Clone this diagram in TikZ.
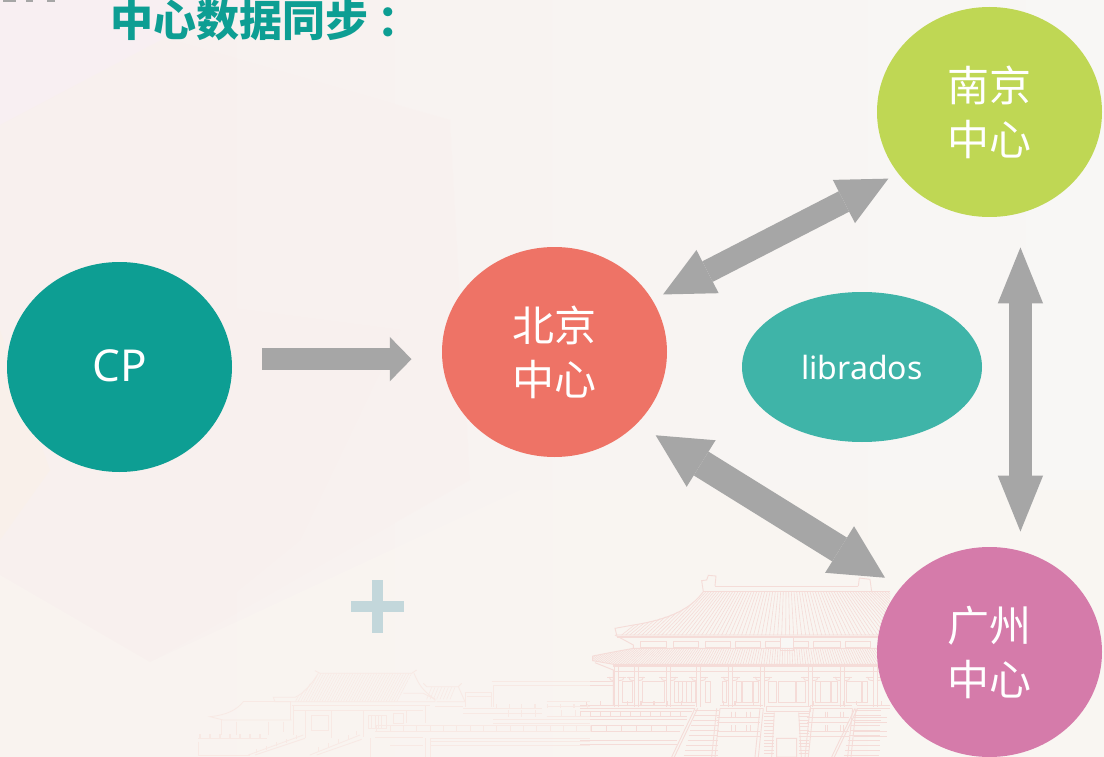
\documentclass[tikz,border=0pt]{standalone}
\usepackage{fontspec}
\setmainfont{Noto Sans}
\newfontfamily\cjk{Noto Sans CJK SC}
\usetikzlibrary{shapes.geometric,arrows.meta}
\definecolor{paper}{HTML}{F8F7F5}
\definecolor{washrose}{HTML}{F8F0EE}
\definecolor{washpink}{HTML}{F8EFF3}
\definecolor{washpeach}{HTML}{FAF0E8}
\definecolor{washcream}{HTML}{FAF6F1}
\definecolor{flowgrey}{HTML}{A6A6A6}
\definecolor{tealdark}{HTML}{0D9E93}
\definecolor{tealsoft}{HTML}{3FB4A8}
\definecolor{coral}{HTML}{EE7366}
\definecolor{lime}{HTML}{BFD754}
\definecolor{orchid}{HTML}{D57BAA}
\definecolor{plusblue}{HTML}{C3D7DB}
\definecolor{hallline}{HTML}{F5DCD8}
\definecolor{gateline}{HTML}{F8E9E4}
\tikzset{
  center/.style={ellipse,inner sep=0pt,minimum width=225pt,minimum height=210pt,
    text=white,align=center,font=\cjk\fontsize{42}{54}\selectfont},
  flow/.style={draw=flowgrey,line width=#1},
  tipsmall/.style={-{Triangle[length=21.7pt,width=44.4pt,line width=0pt]}},
  tipwide/.style={{Triangle[length=50pt,width=48.6pt,line width=0pt]}-{Triangle[length=50pt,width=48.6pt,line width=0pt]}},
  tiplarge/.style={{Triangle[length=53.5pt,width=54.8pt,line width=0pt]}-{Triangle[length=53.5pt,width=54.8pt,line width=0pt]}},
  tiptall/.style={{Triangle[length=56pt,width=45.4pt,line width=0pt]}-{Triangle[length=56pt,width=45.4pt,line width=0pt]}},
  hall/.style={draw=hallline,line width=.9pt},
  gate/.style={draw=gateline,line width=.8pt},
}
\begin{document}
\begin{tikzpicture}[x=1pt,y=-1pt]
\clip (0,0) rectangle (1104,757);

% paper with its soft geometric wash
\shade[left color=washrose,middle color=paper,right color=paper] (0,0) rectangle (1104,757);
\fill[washpink,opacity=.8] (0,0) -- (260,0) -- (165,38) -- (0,125) -- cycle;
\fill[washrose,opacity=.45] (0,125) -- (165,38) -- (450,120) -- (470,480) -- (150,662) -- (0,575) -- cycle;
\fill[washrose,opacity=.35] (0,250) -- (170,300) -- (400,330) -- (300,540) -- (150,662) -- (0,575) -- cycle;
\fill[washpeach,opacity=.6] (0,330) -- (50,470) -- (0,540) -- cycle;
\fill[washcream,opacity=.5] (0,575) -- (150,662) -- (520,490) -- (1104,490) -- (1104,757) -- (0,757) -- cycle;

% hall on the terrace, laid out in a third of a point
\begin{scope}[shift={(580,570)},x=.33333pt,y=-.33333pt]
  % upper roof
  \begin{scope}
    \clip (370,65) .. controls (330,120) and (260,150) .. (105,175) -- (110,195) -- (930,195) -- (930,65) -- cycle;
    \foreach \t in {-330,-322,...,330}
      \draw[hall,line width=.6pt] (620+\t,65) -- (620+1.5*\t,195);
  \end{scope}
  \draw[hall] (370,65) .. controls (330,120) and (260,150) .. (160,165) -- (105,175) -- (110,195) -- (930,195);
  \draw[hall] (370,65) -- (930,65);
  \draw[hall] (405,48) -- (835,48);
  \draw[hall] (405,48) -- (408,18) -- (385,16) -- (380,30) -- (365,32) -- (370,65);
  \draw[hall] (835,48) -- (838,24) -- (870,28) -- (875,65);
  \draw[hall,line width=1.4pt] (110,201) -- (930,201);
  \draw[hall] (105,195) -- (160,225) -- (160,235);
  % frieze between the roofs
  \foreach \a/\b in {180/260,280/355,375/450,465/540,555/600,640/685,700/780,795/870}
    \draw[hall] (\a,215) rectangle (\b,232);
  \draw[hall,fill=paper] (601,201) rectangle (640,241);
  % lower roof
  \begin{scope}
    \clip (38,258) -- (105,245) -- (160,235) -- (930,235) -- (930,283) -- (100,283) -- (38,272) -- cycle;
    \foreach \t in {-600,-593,...,340}
      \draw[hall,line width=.6pt] (620+\t,235) -- (620+1.12*\t,283);
  \end{scope}
  \draw[hall] (38,258) -- (105,245) -- (160,235) -- (930,235);
  \draw[hall] (38,258) -- (38,272) -- (100,283) -- (930,283);
  \draw[hall,line width=1.6pt] (100,288) -- (930,288);
  \draw[hall] (45,278) -- (100,300) -- (100,405);
  % long wall running off to the left
  \draw[hall] (0,335) -- (100,335) (0,345) -- (100,345);
  % columns and their brackets
  \foreach \c in {110,168,265,356,452,548,692,788,885} {
    \draw[hall] (\c-6,290) -- (\c-6,412) (\c+6,290) -- (\c+6,412);
    \draw[hall] (\c-28,321) -- (\c-6,321) (\c+6,321) -- (\c+28,321);
    \draw[hall] (\c-22,321) .. controls (\c-20,330) .. (\c-6,332) (\c+22,321) .. controls (\c+20,330) .. (\c+6,332);
  }
  \draw[hall] (100,305) -- (930,305);
  % doors and windows
  \foreach \a/\b in {128/158,188/252,283/347,376/392,428/440,470/485,487/518,520/535,565/590,595/645,650/676,705/720,722/752,754/772,800/845,848/862}
    \draw[hall] (\a,335) rectangle (\b,398);
  \foreach \x in {295,308,320,333}
    \draw[hall] (\x,335) -- (\x,398);
  % terrace to the left of the stairs
  \foreach \y/\a/\b in {405/0/345,414/0/345,425/0/335,440/0/322,447/0/320,467/0/312,485/0/300,510/0/292,522/0/290}
    \draw[hall] (\a,\y) -- (\b,\y);
  \foreach \x in {0,30,...,300}
    \draw[hall] (\x,425) -- (\x,440);
  \foreach \x in {35,80,125,170,215,260}
    \draw[hall] (\x,465) -- (\x,485);
  \foreach \x in {20,62,104,143,183,222,262,305}
    \draw[hall,line width=1.6pt] (\x,394) -- (\x,405);
  % terrace blocks to the right
  \foreach \a/\b in {420/548,690/815,830/930} {
    \draw[hall] (\a,405) -- (\b,405) (\a,415) -- (\b,415);
    \foreach \y in {441,458,485,500}
      \draw[hall] (\a-8,\y) -- (\b-8,\y);
  }
  \foreach \x in {465,510,735,780,453,500,742,790} 
    \draw[hall] (\x,425) -- (\x,441) (\x,465) -- (\x,485);
  \foreach \x in {430,465,520,700,790,830,905}
    \draw[hall,line width=1.6pt] (\x,394) -- (\x,405);
  % flights of steps
  \foreach \a/\b in {345/420,825/905} {
    \foreach \y in {420,435,...,555} {
      \draw[hall,line width=.7pt] (\a-\y*.25+105,\y) -- (\b-\y*.03+10,\y);
    }
    \draw[hall] (\a,415) -- (\a-70,561) (\a+8,415) -- (\a-62,561);
  }
  \foreach \x in {420,410,540,550,690,700,818,828}
    \draw[hall] (\x,415) -- (\x-15,561);
  \foreach \y in {430,440,...,555}
    \draw[hall,line width=.7pt] (553,\y) -- (583,\y) (656,\y) -- (688,\y);
  \draw[hall] (583,428) -- (575,561) (656,428) -- (664,561) (590,505) rectangle (650,561);
  \draw[hall] (560,408) rectangle (690,425);
\end{scope}

% low gate halls further back, fainter
\begin{scope}[shift={(190,660)},x=.33333pt,y=-.33333pt]
  \begin{scope}
    \clip (390,40) -- (665,40) -- (625,125) -- (310,125) -- cycle;
    \foreach \x in {300,308,...,680}
      \draw[gate,line width=.5pt] (\x+45,40) -- (\x,125);
  \end{scope}
  \draw[gate] (390,40) -- (665,40) (375,32) -- (390,40) (665,40) -- (680,30);
  \draw[gate] (385,40) .. controls (360,80) and (340,100) .. (315,112) -- (250,112) -- (255,125) -- (735,125);
  \draw[gate] (672,40) .. controls (685,70) and (695,90) .. (735,118) -- (735,125);
  \draw[gate] (640,100) -- (700,100) -- (735,118);
  % side hall
  \draw[gate] (160,125) .. controls (140,150) and (110,165) .. (60,170) -- (100,180) -- (305,180);
  \draw[gate] (160,125) -- (300,125) -- (300,180);
  \draw[gate] (95,180) -- (95,225) (140,185) -- (140,225) (235,185) -- (235,225) (280,185) -- (280,215);
  % gate body
  \draw[gate] (305,135) -- (720,135) (310,150) -- (700,150);
  \draw[gate] (310,135) -- (310,225) (345,150) -- (345,235) (425,150) -- (425,235) (520,150) -- (520,230);
  \draw[gate] (365,165) rectangle (415,210);
  \draw[gate] (535,165) rectangle (590,205);
  \foreach \x in {545,555,565,575} \draw[gate] (\x,165) -- (\x,205);
  \draw[gate] (610,160) rectangle (640,190) (650,150) -- (650,190) (705,135) -- (705,190);
  % small pavilion
  \draw[gate] (710,80) -- (805,80) -- (825,125) -- (740,125);
  \foreach \x in {715,725,...,785} \draw[gate,line width=.5pt] (\x+10,82) -- (\x-5,118);
  \draw[gate] (700,70) -- (710,80) (805,80) -- (815,70);
  \draw[gate] (825,98) -- (905,98) -- (905,140) (830,110) -- (905,110) (825,98) -- (825,140);
  % long back wall
  \draw[gate] (905,65) -- (1200,65) (910,75) -- (1200,75) (910,75) -- (910,140);
  \foreach \a/\b/\y in {735/820/140,820/1055/145,820/1055/160,910/1200/178,910/1200/190,555/1200/195,555/1200/215,555/700/232,1070/1200/125,1070/1200/140,1070/1200/170,720/1200/235,720/1200/245,720/1200/255,600/700/255}
    \draw[gate] (\a,\y) -- (\b,\y);
  \foreach \x in {920,958,995,1035,1072,1112,1152,1192}
    \draw[gate,line width=1.4pt] (\x,133) -- (\x,145);
  \foreach \x in {955,995,1035,1115,1155}
    \draw[gate] (\x,150) -- (\x,170);
  \foreach \x in {560,600,...,1200}
    \draw[gate] (\x,195) -- (\x,215);
  \draw[gate] (705,235) -- (705,291) (722,235) -- (722,291) (540,235) -- (540,291);
  % front wall and ramps
  \draw[gate] (25,235) -- (230,235) (25,245) -- (25,285) -- (180,285);
  \foreach \x in {30,60,...,210}
    \draw[gate,line width=1.4pt] (\x,222) -- (\x,235);
  \draw[gate] (175,285) -- (340,225) (195,285) -- (345,235);
  \draw[gate] (360,285) -- (510,225) (380,285) -- (515,238);
  \foreach \x in {200,230,260,290,320}
    \draw[gate] (\x,\x*-.36+352) -- (\x,\x*-.36+340);
  \foreach \x in {385,415,445,475,500}
    \draw[gate] (\x,\x*-.4+426) -- (\x,\x*-.4+414);
\end{scope}

% plus sign
\fill[plusblue] (372,580) rectangle (383,633);
\fill[plusblue] (351,601) rectangle (404,612);

% clipped remains of a heading along the top edge
\fill[gray!70] (3,0) rectangle (16,1.6);
\fill[gray!70] (26,0) rectangle (33,1.8);
\fill[gray!70] (47,0) rectangle (55,1.8);

\node[anchor=west,inner sep=0pt,text=tealdark,font=\cjk\bfseries\fontsize{43}{43}\selectfont]
  (title) at (110,20) {中心数据同步\hspace{.22em}：};

% data centres
\node[center,fill=tealdark,font=\fontsize{44}{53}\selectfont] (cp) at (119.5,367) {\raisebox{2pt}{CP}};
\node[center,fill=coral] (bj) at (554.5,352) {北京\\中心};
\node[center,fill=lime] (nj) at (989.5,112) {南京\\中心};
\node[center,fill=orchid] (gz) at (989.5,652) {广州\\中心};
\node[ellipse,inner sep=0pt,minimum width=240pt,minimum height=150pt,fill=tealsoft,text=white,
  font=\fontsize{32}{38}\selectfont] (lib) at (862,367) {librados};

% replication links
\draw[flow=22.6pt,tipsmall,shorten <=30.3pt,shorten >=30.3pt] (cp.4) -- (cp.4 -| bj.west);
\draw[flow=23pt,tipwide,shorten <=12pt,shorten >=11pt] (bj.28.6) -- (nj.214);
\draw[flow=28pt,tiplarge,shorten <=22pt,shorten >=18.3pt] (bj.-41.05) -- (gz.144.9);
\draw[flow=23pt,tiptall,shorten <=34.3pt,shorten >=19.3pt] (nj.-73.2) -- (gz.73.2);
\end{tikzpicture}
\end{document}
